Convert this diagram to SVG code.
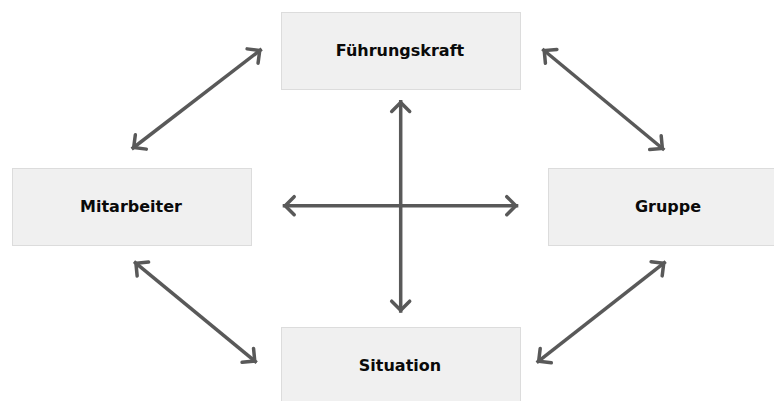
<svg xmlns="http://www.w3.org/2000/svg" width="774" height="401" viewBox="0 0 774 401">
  <style>
    .box { fill: #f0f0f0; stroke: #dcdcdc; stroke-width: 1; }
    .label { font-family: "DejaVu Sans", "Liberation Sans", sans-serif; font-weight: bold; font-size: 16px; fill: #0a0a0a; text-anchor: middle; }
    .link { fill: none; stroke: #595959; stroke-width: 3.5; marker-start: url(#chev); marker-end: url(#chev); }
  </style>
  <defs>
    <!-- open chevron head used at both ends of every connector -->
    <marker id="chev" markerUnits="userSpaceOnUse" viewBox="-16 -12 20 24" refX="0" refY="0" markerWidth="20" markerHeight="24" orient="auto-start-reverse">
      <path d="M -11.5,-9 L -2.5,0 L -11.5,9" fill="none" stroke="#595959" stroke-width="3.5" stroke-linejoin="miter" stroke-linecap="round"/>
    </marker>
  </defs>

  <g id="connectors">
    <line class="link" x1="131.7" y1="149" x2="261.7" y2="49"/>
    <line class="link" x1="542.3" y1="49" x2="664.3" y2="150"/>
    <line class="link" x1="134" y1="261.7" x2="256.7" y2="362.7"/>
    <line class="link" x1="536.7" y1="362.7" x2="665.7" y2="261.7"/>
    <line class="link" x1="400.7" y1="100" x2="400.7" y2="312.7"/>
    <line class="link" x1="282.7" y1="205.7" x2="518.3" y2="205.7"/>
  </g>

  <g id="fuehrungskraft">
    <rect class="box" x="281.5" y="12.5" width="239" height="77"/>
    <text class="label" x="400" y="56">Führungskraft</text>
  </g>
  <g id="mitarbeiter">
    <rect class="box" x="12.5" y="168.5" width="239" height="77"/>
    <text class="label" x="131" y="212">Mitarbeiter</text>
  </g>
  <g id="gruppe">
    <rect class="box" x="548.5" y="168.5" width="239" height="77"/>
    <text class="label" x="668" y="212">Gruppe</text>
  </g>
  <g id="situation">
    <rect class="box" x="281.5" y="327.5" width="239" height="77"/>
    <text class="label" x="400" y="371">Situation</text>
  </g>
</svg>
